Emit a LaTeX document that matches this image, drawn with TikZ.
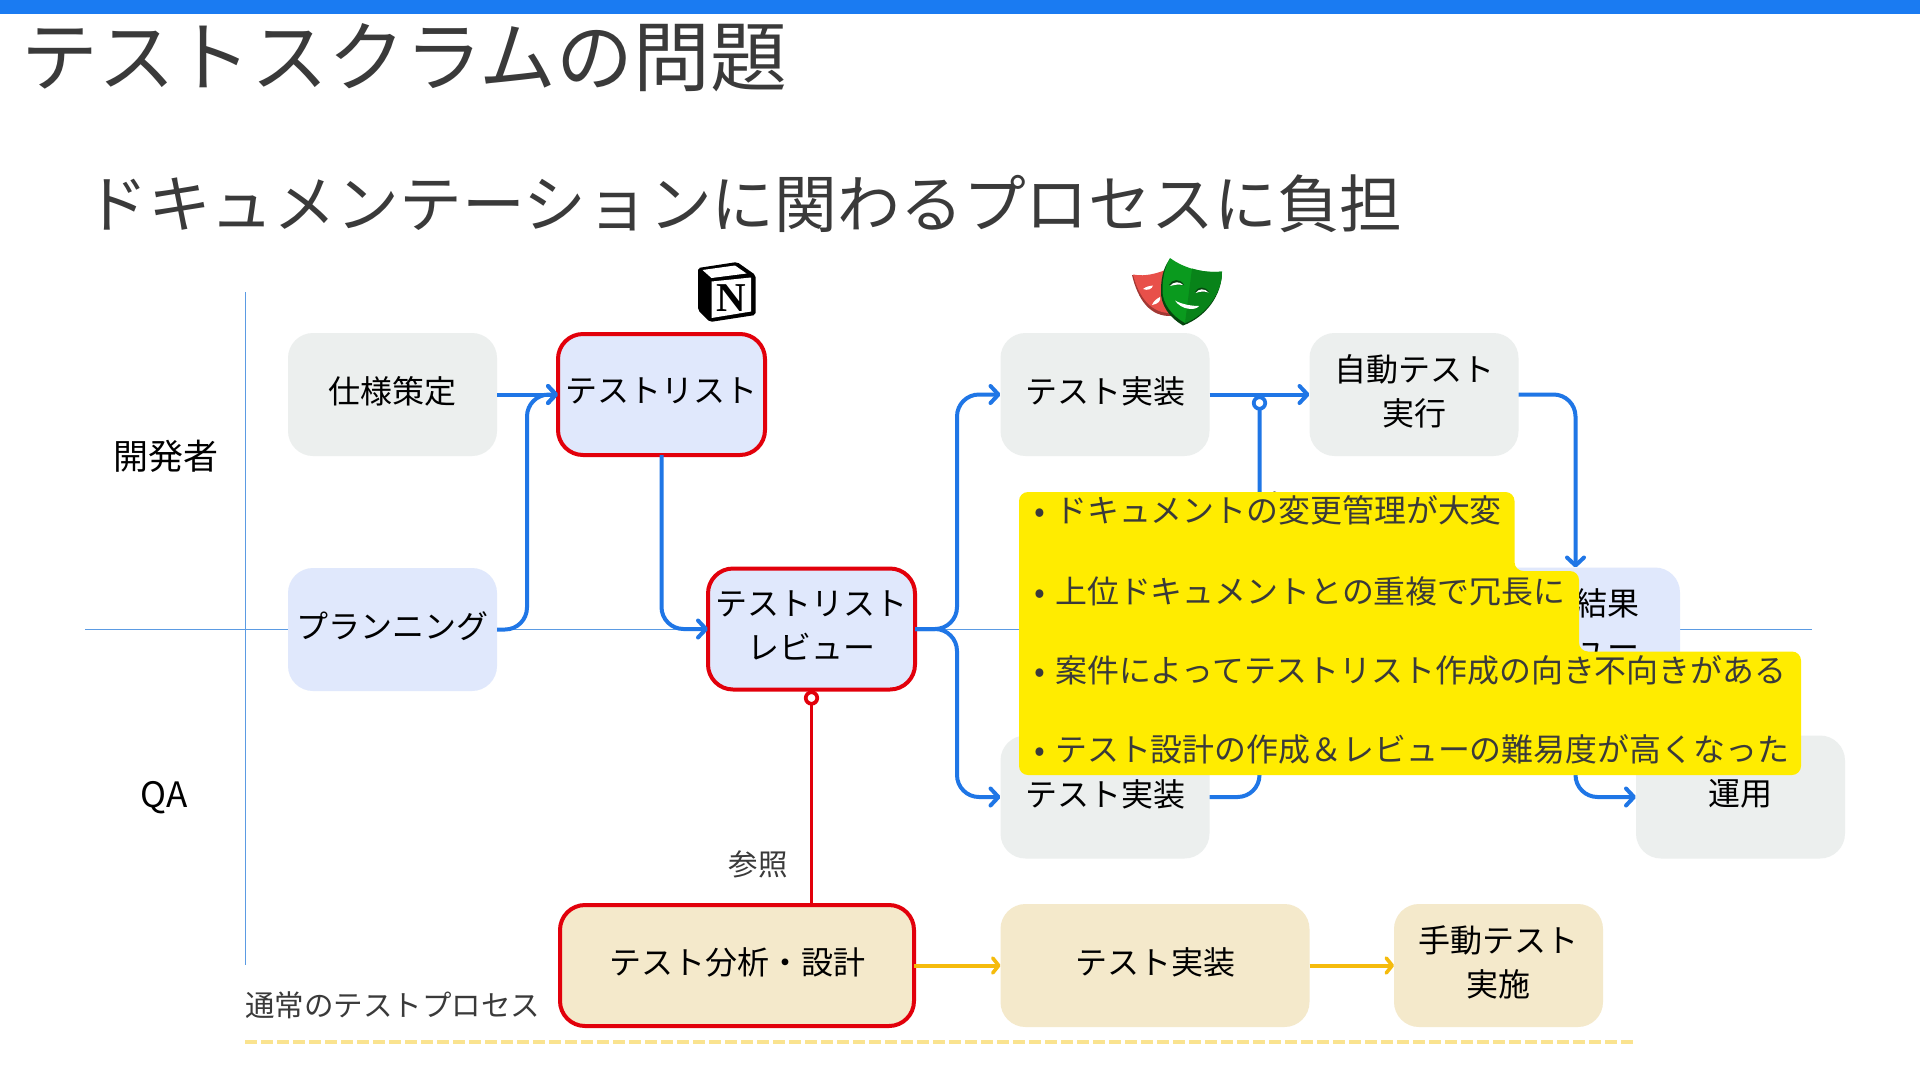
\documentclass[tikz,border=0pt]{standalone}
\usepackage{fontspec}
\setmainfont{Noto Sans CJK JP}
\newfontfamily\logofont{Liberation Serif}
\usetikzlibrary{arrows.meta}
\definecolor{topbar}{HTML}{1A7BF2}
\definecolor{ink}{HTML}{3A3A3A}
\definecolor{axis}{HTML}{5B9BE3}
\definecolor{flowblue}{HTML}{1F76E6}
\definecolor{boxgray}{HTML}{ECEFEE}
\definecolor{boxblue}{HTML}{E0E8FC}
\definecolor{boxtan}{HTML}{F4E9CB}
\definecolor{alertred}{HTML}{E2000B}
\definecolor{amber}{HTML}{F5BB0C}
\definecolor{dashy}{HTML}{FAE38F}
\definecolor{note}{HTML}{FFEC00}
\definecolor{maskred}{HTML}{E8504A}
\definecolor{maskgreen}{HTML}{0A9A1E}
\tikzset{
  base/.style={rounded corners=25pt,minimum height=123pt,inner sep=0pt,outer sep=0pt,align=center,font=\fontsize{32}{44}\selectfont,text=black},
  gray/.style={base,fill=boxgray,minimum width=209pt},
  blue/.style={base,fill=boxblue,minimum width=209pt},
  tan/.style={base,fill=boxtan},
  alert/.style={draw=alertred,line width=4pt},
  flow/.style={draw=flowblue,line width=4pt,rounded corners=22pt,-{Straight Barb[length=8pt,width=17pt,line width=4pt,round]}},
  flowplain/.style={draw=flowblue,line width=4pt,rounded corners=22pt},
  amberflow/.style={draw=amber,line width=4pt,-{Straight Barb[length=6pt,width=15pt,line width=3.6pt,round]}},
  ring/.style={circle,draw,line width=3.7pt,fill=white,minimum size=11.5pt,inner sep=0pt,outer sep=0pt},
  lane/.style={font=\fontsize{35}{40}\selectfont,text=black},
  small/.style={font=\fontsize{29.5}{34}\selectfont,text=ink,inner sep=0pt},
  notetext/.style={anchor=west,inner sep=0pt,font=\fontsize{31.9}{40}\selectfont,text=ink},
}
\newcommand{\bul}{\makebox[21pt][l]{•}}
\newcommand{\one}[1]{\raisebox{8.5pt}{#1}}
\newcommand{\two}[2]{\raisebox{3.5pt}{\begin{tabular}{@{}c@{}}#1\\#2\end{tabular}}}
\begin{document}
\begin{tikzpicture}[x=1pt,y=-1pt]
\useasboundingbox (0,0) rectangle (1920,1080);
\fill[white] (0,0) rectangle (1920,1080);
\fill[topbar] (0,0) rectangle (1920,14);
\node[anchor=west,inner sep=0pt,text=ink,font=\fontsize{76.8}{80}\selectfont] (title) at (21,58) {テストスクラムの問題};
\node[anchor=west,inner sep=0pt,text=ink,font=\fontsize{62.8}{70}\selectfont] (subtitle) at (85,203.5) {ドキュメンテーションに関わるプロセスに負担};
% axes
\coordinate (vt) at (245,292); \coordinate (vb) at (245,965);
\coordinate (hl) at (85,629.5); \coordinate (hr) at (1812,629.5);
\draw[axis,line width=1pt] (vt) -- (vb);
\draw[axis,line width=1.2pt] (hl) -- (hr);
\node[lane] (dev) at (165.5,456) {開発者};
\node[lane] (qa) at (164,798) {QA};
% boxes
\node[gray] (spec) at (392.5,394.5) {\one{仕様策定}};
\node[blue] (plan) at (392.5,629.5) {\one{プランニング}};
\node[blue,alert,minimum width=207pt,minimum height=121pt] (tl) at (661.5,394.5) {\one{テストリスト}};
\node[blue,alert,minimum width=207pt,minimum height=121pt] (rev) at (811.5,629) {\two{テストリスト}{レビュー}};
\node[gray] (impl) at (1105,394.5) {\one{テスト実装}};
\node[gray] (auto) at (1414,394.5) {\two{自動テスト}{実行}};
\node[blue] (res) at (1575.5,629) {\two{\phantom{結果}結果}{レビュー}};
\node[gray] (impl2) at (1105,797) {\one{テスト実装}};
\node[gray] (ops) at (1740.5,797) {\one{運用}};
\node[tan,alert,minimum width=354pt,minimum height=121pt] (ana) at (737,965.5) {\one{テスト分析・設計}};
\node[tan,minimum width=309pt] (impl3) at (1155,965.5) {\one{テスト実装}};
\node[tan,minimum width=209pt] (man) at (1498.5,965.5) {\two{手動テスト}{実施}};
% connectors
\draw[flow] (spec.east) -- (tl.west);
\draw[flow] (plan.east) -- ++(30,0) |- (tl.west);
\draw[flow] (tl.south) |- (rev.west);
\draw[flow] (rev.east) -- ++(42,0) |- (impl.west);
\draw[flow] (rev.east) -- ++(42,0) |- (impl2.west);
\draw[flow] (impl.east) -- (auto.west);
\node[ring,draw=flowblue] (bl) at (1259.5,403) {};
\draw[flowplain] (impl2.east) -| (bl.south);
\draw[flow] (auto.east) -| (res.north);
\draw[flow] (res.south) |- (ops.west);
\node[small] (ref2) at (1293,505) {参照};
\draw[amberflow] (ana.east) -- (impl3.west);
\draw[amberflow] (impl3.east) -- (man.west);
\node[ring,draw=alertred] (rl) at (811.5,698) {};
\draw[draw=alertred,line width=3.7pt] (rl.south) -- (ana.north -| rl.south);
\node[small] (ref1) at (758,864) {参照};
\node[small,anchor=west] (normal) at (245,1005) {通常のテストプロセス};
\coordinate (dl) at (245,1042); \coordinate (dr) at (1633,1042);
\draw[dashy,line width=3.5pt,dash pattern=on 12pt off 4pt] (dl) -- (dr);
% Notion logo
\fill[black,rounded corners=2pt] (698,268) -- (737,262) -- (755.5,275) -- (755.5,315) -- (710,322) -- (698,310) -- cycle;
\fill[white] (702.5,270) -- (735,265.5) -- (746.5,273.5) -- (711.5,278) -- cycle;
\fill[white] (711.5,281.5) -- (751,277.5) -- (751,311.5) -- (711.5,318) -- cycle;
\node[inner sep=0pt,text=black,font=\logofont\bfseries\fontsize{41}{41}\selectfont] (nlogo) at (731,298) {N};
% Playwright logo
\fill[maskred!70!black] (1132,275) .. controls (1145,278) and (1158,274) .. (1168,270) -- (1172,316) .. controls (1150,317) and (1138,300) .. cycle;
\fill[maskred] (1133,274.5) .. controls (1146,277) and (1158,273) .. (1168,269) -- (1172,313) .. controls (1152,314) and (1139,298) .. cycle;
\fill[white] (1143,289) .. controls (1147,286) and (1150,286) .. (1153,285.5) .. controls (1152,289) and (1148,291) .. cycle;
\fill[white] (1152,305) .. controls (1153,302) and (1156,299) .. (1160,297) .. controls (1161,301) and (1158,304) .. cycle;
\fill[black!55!maskgreen] (1170,259) .. controls (1185,270) and (1205,274) .. (1222,272) .. controls (1222,295) and (1206,317) .. (1183,325.5) .. controls (1170,318) and (1160,305) .. (1161,290) .. controls (1161,275) and (1165,265) .. cycle;
\fill[maskgreen] (1170,258) .. controls (1185,269) and (1205,273.5) .. (1222,271.5) .. controls (1222,292) and (1207,314) .. (1185,323) .. controls (1172,316) and (1162,303) .. (1162.5,290) .. controls (1162.5,275) and (1166,265) .. cycle;
\fill[black!15!maskgreen] (1192,268.5) .. controls (1202,271.5) and (1212,272.5) .. (1222,271.5) .. controls (1222,292) and (1207,314) .. (1185,323) -- cycle;
\fill[black!55!maskgreen] (1169,285) .. controls (1172,279) and (1180,278) .. (1184,285) -- cycle;
\fill[white] (1170,286) .. controls (1173,281.5) and (1180,281) .. (1183,285) .. controls (1178,284) and (1174,285) .. cycle;
\fill[black!55!maskgreen] (1195,292) .. controls (1198,286) and (1205,286) .. (1209,292) -- cycle;
\fill[white] (1195.5,293) .. controls (1198,288.5) and (1205,288) .. (1208.5,292.5) .. controls (1204,291) and (1200,291.5) .. cycle;
\fill[white] (1175,300.5) .. controls (1182,304.5) and (1192,306) .. (1199,306) .. controls (1196,311) and (1181,310) .. cycle;
% yellow note
\fill[note,rounded corners=9pt] (1019,492) -- (1514.5,492) -- (1514.5,571) -- (1579,571) -- (1579,651.5) -- (1801,651.5) -- (1801,775) -- (1019,775) -- cycle;
\node[notetext] (n1) at (1034,510.5) {\bul ドキュメントの変更管理が大変};
\node[notetext] (n2) at (1034,591) {\bul 上位ドキュメントとの重複で冗長に};
\node[notetext] (n3) at (1034,670) {\bul 案件によってテストリスト作成の向き不向きがある};
\node[notetext] (n4) at (1034,749.5) {\bul テスト設計の作成＆レビューの難易度が高くなった};
\end{tikzpicture}
\end{document}
